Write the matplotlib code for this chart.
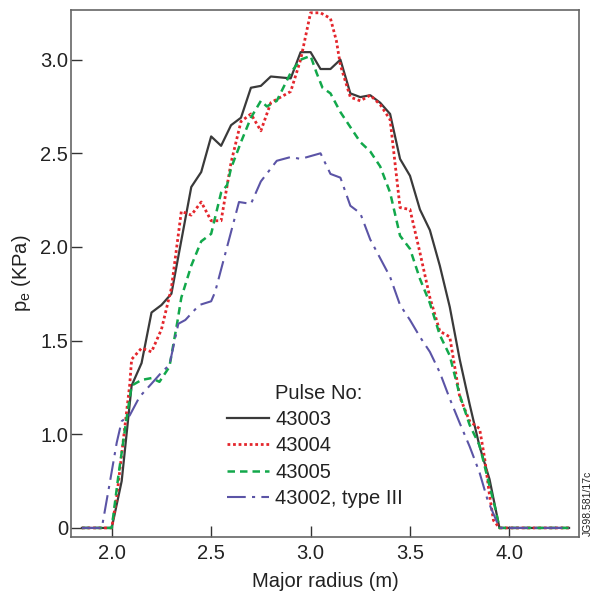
import numpy as np
import matplotlib
matplotlib.use("Agg")
import matplotlib.pyplot as plt

plt.rcParams['font.family'] = ['Liberation Sans', 'DejaVu Sans']

# ---- data (major radius in m, electron pressure in kPa) ----
r_43003 = [1.85, 2.00, 2.05, 2.10, 2.15, 2.20, 2.25, 2.30, 2.40, 2.45, 2.50, 2.55, 2.60,
           2.65, 2.70, 2.75, 2.80, 2.90, 2.95, 3.00, 3.05, 3.10, 3.15, 3.20, 3.25, 3.30,
           3.35, 3.40, 3.45, 3.50, 3.55, 3.60, 3.65, 3.70, 3.75, 3.80, 3.85, 3.90, 3.95, 4.30]
p_43003 = [0, 0, 0.50, 1.26, 1.38, 1.65, 1.69, 1.75, 2.32, 2.40, 2.59, 2.54, 2.65,
           2.69, 2.85, 2.86, 2.91, 2.90, 3.04, 3.04, 2.95, 2.95, 3.00, 2.82, 2.80, 2.81,
           2.77, 2.71, 2.47, 2.38, 2.20, 2.09, 1.90, 1.68, 1.40, 1.16, 0.87, 0.52, 0, 0]

r_43004 = [1.85, 2.00, 2.025, 2.09, 2.10, 2.15, 2.20, 2.25, 2.30, 2.35, 2.40, 2.45, 2.50,
           2.55, 2.60, 2.65, 2.70, 2.75, 2.80, 2.85, 2.90, 2.95, 3.00, 3.05, 3.10, 3.13,
           3.15, 3.20, 3.25, 3.30, 3.35, 3.40, 3.45, 3.50, 3.55, 3.60, 3.65, 3.70, 3.75,
           3.80, 3.85, 3.875, 3.90, 3.92, 3.95, 4.30]
p_43004 = [0, 0, 0.33, 1.26, 1.40, 1.46, 1.44, 1.56, 1.78, 2.19, 2.17, 2.24, 2.14,
           2.14, 2.45, 2.67, 2.71, 2.62, 2.77, 2.80, 2.83, 3.00, 3.25, 3.25, 3.22, 3.10,
           2.97, 2.80, 2.78, 2.81, 2.76, 2.68, 2.21, 2.20, 1.97, 1.73, 1.55, 1.52, 1.20,
           1.07, 1.03, 0.75, 0.35, 0.08, 0, 0]

r_43005 = [1.85, 2.00, 2.033, 2.067, 2.10, 2.15, 2.20, 2.24, 2.29, 2.33, 2.35, 2.40, 2.45,
           2.50, 2.55, 2.58, 2.60, 2.65, 2.70, 2.75, 2.78, 2.83, 2.90, 2.95, 3.00, 3.03,
           3.06, 3.10, 3.15, 3.20, 3.25, 3.30, 3.35, 3.40, 3.45, 3.50, 3.55, 3.60, 3.65,
           3.70, 3.75, 3.80, 3.85, 3.90, 3.93, 3.95, 4.30]
p_43005 = [0, 0, 0.55, 1.03, 1.26, 1.29, 1.30, 1.28, 1.36, 1.60, 1.73, 1.90, 2.03,
           2.07, 2.29, 2.33, 2.42, 2.56, 2.69, 2.78, 2.75, 2.78, 2.93, 3.00, 3.02, 2.93,
           2.85, 2.82, 2.72, 2.64, 2.56, 2.51, 2.43, 2.29, 2.06, 1.99, 1.83, 1.70, 1.53,
           1.42, 1.21, 1.05, 0.88, 0.45, 0.20, 0, 0]

r_43002 = [1.85, 1.95, 1.99, 2.025, 2.05, 2.09, 2.14, 2.20, 2.25, 2.29, 2.335, 2.37, 2.44,
           2.50, 2.52, 2.64, 2.70, 2.75, 2.83, 2.90, 2.95, 3.05, 3.10, 3.15, 3.20, 3.25,
           3.30, 3.35, 3.40, 3.45, 3.50, 3.55, 3.60, 3.65, 3.70, 3.75, 3.80, 3.85, 3.89,
           3.95, 4.30]
p_43002 = [0, 0, 0.48, 0.91, 1.07, 1.10, 1.20, 1.27, 1.33, 1.37, 1.59, 1.61, 1.69,
           1.71, 1.76, 2.24, 2.23, 2.35, 2.46, 2.48, 2.47, 2.50, 2.39, 2.37, 2.22, 2.18,
           2.04, 1.94, 1.84, 1.69, 1.61, 1.52, 1.44, 1.33, 1.19, 1.06, 0.87, 0.59, 0.30,
           0, 0]

labels = ['43003', '43004', '43005', '43002, type III']
x_ticks = [2.0, 2.5, 3.0, 3.5, 4.0]
x_tick_labels = ['2.0', '2.5', '3.0', '3.5', '4.0']
y_ticks = [0, 1.0, 1.5, 2.0, 2.5, 3.0]
y_tick_labels = ['0', '1.0', '1.5', '2.0', '2.5', '3.0']

# ---- styles ----
colors = ['#3a3a3a', '#e4262c', '#12a84b', '#5b54a6']
styles = ['-', (0, (1, 1)), (0, (3, 2)), (0, (9, 3, 1.5, 3))]
widths = [1.6, 2.0, 1.8, 1.5]

# broken y axis: 0..1 compressed into half a unit
def fwd(v):
    v = np.asarray(v, dtype=float)
    return np.where(v < 1.0, 0.5 + 0.5 * v, v)

def inv(d):
    d = np.asarray(d, dtype=float)
    return np.where(d < 1.0, (d - 0.5) * 2.0, d)

fig = plt.figure(figsize=(5.99, 5.92), dpi=100)
ax = fig.add_axes([0.1185, 0.0924, 0.8481, 0.8907])
ax.set_yscale('function', functions=(fwd, inv))

series = [(r_43003, p_43003), (r_43004, p_43004), (r_43005, p_43005), (r_43002, p_43002)]
handles = []
for (r, p), c, ls, lw, lab in zip(series, colors, styles, widths, labels):
    ln, = ax.plot(r, p, color=c, linestyle=ls, linewidth=lw, label=lab)
    handles.append(ln)

ax.set_xlim(1.795, 4.35)
ax.set_ylim(-0.10, 3.265)
ax.set_xticks(x_ticks)
ax.set_xticklabels(x_tick_labels)
ax.set_yticks(y_ticks)
ax.set_yticklabels(y_tick_labels)
ax.minorticks_off()
ax.tick_params(axis='both', direction='in', length=8, width=1.0, color='#333333',
               labelsize=14.5, labelcolor='#222222')
ax.tick_params(axis='y', pad=2)
ax.tick_params(axis='x', pad=5)
for s in ax.spines.values():
    s.set_color('#666666')
    s.set_linewidth(1.2)

ax.set_xlabel('Major radius (m)', fontsize=14.5, color='#222222', labelpad=6)
ax.set_ylabel('p$_\\mathregular{e}$ (KPa)', fontsize=14.5, color='#222222', labelpad=5)

leg = ax.legend(handles=handles, loc='upper left', bbox_to_anchor=(0.307, 0.2418),
                frameon=False, fontsize=14.5, handlelength=2.1, handletextpad=0.3,
                labelspacing=0.37, borderpad=0, borderaxespad=0)
for t in leg.get_texts():
    t.set_color('#222222')
ax.text(0.4016, 0.2718, 'Pulse No:', transform=ax.transAxes, fontsize=14.5,
        color='#222222', ha='left', va='center')

fig.text(588 / 599, 1 - 503 / 592, 'JG98.581/17c', rotation=90, fontsize=7.5,
         color='#222222', ha='center', va='center')

fig.savefig('out.png', dpi=100)
